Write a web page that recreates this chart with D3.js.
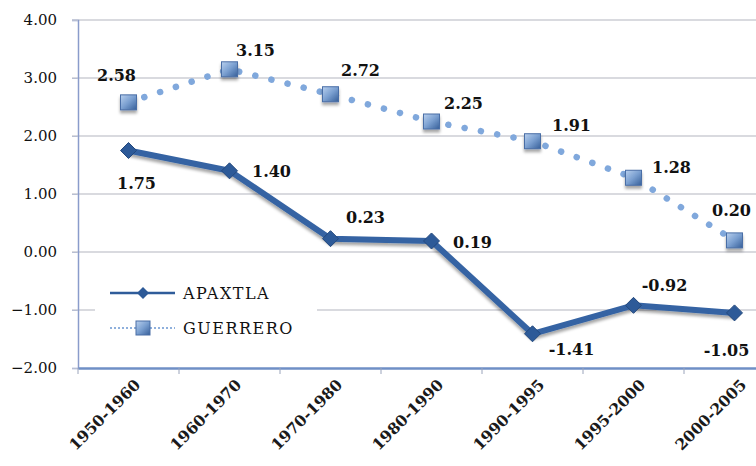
<!DOCTYPE html>
<html>
<head>
<meta charset="utf-8">
<script src="https://cdn.jsdelivr.net/npm/d3@7"></script>
<style>
  body { margin: 0; background: #fff; }
  svg { display: block; font-family: "DejaVu Serif", serif; }
</style>
</head>
<body>
<svg id="chart" width="756" height="466"></svg>
<script>
// data
const periods = ["1950-1960", "1960-1970", "1970-1980", "1980-1990", "1990-1995", "1995-2000", "2000-2005"];
const apaxtla = [1.75, 1.40, 0.23, 0.19, -1.41, -0.92, -1.05];
const guerrero = [2.58, 3.15, 2.72, 2.25, 1.91, 1.28, 0.20];
const yTicks = [-2, -1, 0, 1, 2, 3, 4];

// label placement (dx, dy from the point)
const apaxtlaLabelOffset = [[8, 33], [42, 1], [35, -21], [41, 1], [39, 16], [31, -20], [-8, 37]];
const guerreroLabelOffset = [[-12, -27], [26, -19], [30, -24], [32, -18], [39, -16], [38, -10], [-3, -30]];

const svg = d3.select("#chart");

const x = d3.scaleBand().domain(periods).range([78, 785]).paddingInner(0).paddingOuter(0);
const y = d3.scaleLinear().domain([-2, 4]).range([368, 20]);
const cx = (p) => x(p) + x.bandwidth() / 2;

const defs = svg.append("defs");
const grad = defs.append("linearGradient").attr("id", "sq").attr("x1", 0).attr("y1", 0).attr("x2", 1).attr("y2", 1);
grad.append("stop").attr("offset", "0%").attr("stop-color", "#b9d0ee");
grad.append("stop").attr("offset", "50%").attr("stop-color", "#7a9fd0");
grad.append("stop").attr("offset", "100%").attr("stop-color", "#365f99");
const sh = defs.append("filter").attr("id", "shadow").attr("x", "-50%").attr("y", "-50%").attr("width", "200%").attr("height", "200%");
sh.append("feDropShadow").attr("dx", 0).attr("dy", 3).attr("stdDeviation", 1.5).attr("flood-color", "#000").attr("flood-opacity", 0.35);

// gridlines
svg.append("g")
  .selectAll("line")
  .data(yTicks.filter((d) => d !== -2))
  .join("line")
  .attr("x1", 72)
  .attr("x2", 756)
  .attr("y1", (d) => y(d))
  .attr("y2", (d) => y(d))
  .attr("stroke", "#d9dadf")
  .attr("stroke-width", 2);

// y axis
const yAxis = svg.append("g")
  .attr("transform", "translate(78,0)")
  .call(d3.axisLeft(y).tickValues(yTicks).tickFormat(d3.format(".2f")).tickSize(6));
yAxis.select(".domain").attr("stroke", "#8a9ccb").attr("stroke-width", 1.5);
yAxis.selectAll(".tick line").attr("stroke", "#b8bfd3");
yAxis.selectAll(".tick text")
  .attr("x", -21)
  .style("font-family", "DejaVu Serif")
  .style("font-size", "15px")
  .style("fill", "#111");

// x axis
const xAxis = svg.append("g")
  .attr("transform", "translate(0,368)")
  .call(d3.axisBottom(x).tickSize(0).tickFormat(""));
xAxis.select(".domain").attr("stroke", "#6f8fc6").attr("stroke-width", 2.5);
xAxis.selectAll(".tick").remove();

// ticks at band boundaries
svg.append("g")
  .selectAll("line")
  .data(periods)
  .join("line")
  .attr("x1", (d) => x(d))
  .attr("x2", (d) => x(d))
  .attr("y1", 368)
  .attr("y2", 374)
  .attr("stroke", "#9aa4bb");

// x labels
svg.append("g")
  .selectAll("text")
  .data(periods)
  .join("text")
  .attr("transform", (d) => `translate(${cx(d) + 5},378) rotate(-45)`)
  .attr("dy", "0.71em")
  .attr("text-anchor", "end")
  .style("font-size", "15.5px")
  .style("font-weight", "bold")
  .style("fill", "#1a1a1a")
  .text((d) => d);

// legend background
svg.append("rect")
  .attr("x", 95)
  .attr("y", 268)
  .attr("width", 222)
  .attr("height", 80)
  .attr("fill", "#fff");

const lineGen = d3.line().x((d, i) => cx(periods[i])).y((d) => y(d));

// GUERRERO dotted line
svg.append("path")
  .datum(guerrero)
  .attr("d", lineGen)
  .attr("fill", "none")
  .attr("stroke", "#80a8dc")
  .attr("stroke-width", 6.5)
  .attr("stroke-linecap", "round")
  .attr("stroke-dasharray", "0.1 16.5");

// APAXTLA solid line
svg.append("path")
  .datum(apaxtla)
  .attr("d", lineGen)
  .attr("fill", "none")
  .attr("stroke", "#3563a3")
  .attr("stroke-width", 6)
  .attr("stroke-linejoin", "round")
  .attr("filter", "url(#shadow)");

const diamond = (s) => `M0,${-s} L${s},0 L0,${s} L${-s},0 Z`;

// APAXTLA markers
svg.append("g")
  .selectAll("path")
  .data(apaxtla)
  .join("path")
  .attr("transform", (d, i) => `translate(${cx(periods[i])},${y(d)})`)
  .attr("d", diamond(8))
  .attr("fill", "#2d5a98")
  .attr("stroke", "#24497d")
  .attr("stroke-width", 1);

// GUERRERO markers
svg.append("g")
  .selectAll("rect")
  .data(guerrero)
  .join("rect")
  .attr("x", (d, i) => cx(periods[i]) - 8)
  .attr("y", (d) => y(d) - 7.5)
  .attr("width", 16)
  .attr("height", 15)
  .attr("fill", "url(#sq)")
  .attr("stroke", "#4a6ea6")
  .attr("stroke-width", 1)
  .attr("filter", "url(#shadow)");

// data labels
const labelStyle = (sel) =>
  sel
    .attr("text-anchor", "middle")
    .attr("dy", "0.35em")
    .style("font-size", "16px")
    .style("font-weight", "bold")
    .style("fill", "#111");

svg.append("g")
  .selectAll("text")
  .data(guerrero)
  .join("text")
  .attr("x", (d, i) => cx(periods[i]) + guerreroLabelOffset[i][0])
  .attr("y", (d, i) => y(d) + guerreroLabelOffset[i][1])
  .call(labelStyle)
  .text((d) => d.toFixed(2));

svg.append("g")
  .selectAll("text")
  .data(apaxtla)
  .join("text")
  .attr("x", (d, i) => cx(periods[i]) + apaxtlaLabelOffset[i][0])
  .attr("y", (d, i) => y(d) + apaxtlaLabelOffset[i][1])
  .call(labelStyle)
  .text((d) => d.toFixed(2));

// legend
const legend = svg.append("g");
legend.append("line")
  .attr("x1", 110).attr("x2", 175).attr("y1", 293).attr("y2", 293)
  .attr("stroke", "#2f5c9a").attr("stroke-width", 2.5);
legend.append("path")
  .attr("transform", "translate(143,293)")
  .attr("d", diamond(6))
  .attr("fill", "#2d5a98");
legend.append("text")
  .attr("x", 183).attr("y", 293).attr("dy", "0.35em")
  .style("font-size", "16px")
  .style("letter-spacing", "1.5px")
  .style("fill", "#111")
  .text("APAXTLA");

legend.append("line")
  .attr("x1", 110).attr("x2", 175).attr("y1", 328).attr("y2", 328)
  .attr("stroke", "#8fb0dc").attr("stroke-width", 2)
  .attr("stroke-dasharray", "2 2");
legend.append("rect")
  .attr("x", 136).attr("y", 321).attr("width", 14).attr("height", 14)
  .attr("fill", "url(#sq)").attr("stroke", "#4a6ea6");
legend.append("text")
  .attr("x", 183).attr("y", 328).attr("dy", "0.35em")
  .style("font-size", "16px")
  .style("letter-spacing", "1.5px")
  .style("fill", "#111")
  .text("GUERRERO");
</script>
</body>
</html>
